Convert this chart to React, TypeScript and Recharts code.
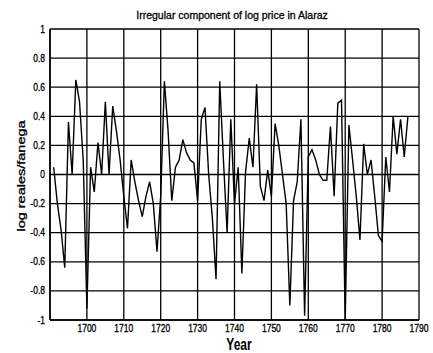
import React from 'react';
import {
  LineChart,
  Line,
  XAxis,
  YAxis,
  CartesianGrid,
} from 'recharts';

// Yearly irregular component of log price (log reales/fanega)
const years = [
  1691, 1692, 1693, 1694, 1695, 1696, 1697, 1698, 1699, 1700,
  1701, 1702, 1703, 1704, 1705, 1706, 1707, 1708, 1709, 1710,
  1711, 1712, 1713, 1714, 1715, 1716, 1717, 1718, 1719, 1720,
  1721, 1722, 1723, 1724, 1725, 1726, 1727, 1728, 1729, 1730,
  1731, 1732, 1733, 1734, 1735, 1736, 1737, 1738, 1739, 1740,
  1741, 1742, 1743, 1744, 1745, 1746, 1747, 1748, 1749, 1750,
  1751, 1752, 1753, 1754, 1755, 1756, 1757, 1758, 1759, 1760,
  1761, 1762, 1763, 1764, 1765, 1766, 1767, 1768, 1769, 1770,
  1771, 1772, 1773, 1774, 1775, 1776, 1777, 1778, 1779, 1780,
  1781, 1782, 1783, 1784, 1785, 1786, 1787,
];

const irregular = [
  0.05, -0.2, -0.38, -0.64, 0.36, 0.0, 0.65, 0.5, 0.1, -0.92,
  0.05, -0.12, 0.22, 0.0, 0.5, 0.0, 0.47, 0.3, 0.1, -0.15,
  -0.37, 0.1, -0.05, -0.18, -0.29, -0.15, -0.05, -0.2, -0.53, -0.15,
  0.64, 0.3, -0.18, 0.05, 0.1, 0.24, 0.15, 0.1, 0.08, -0.18,
  0.38, 0.46, 0.0, -0.3, -0.72, 0.64, 0.1, -0.4, 0.38, -0.2,
  0.05, -0.68, 0.02, 0.25, 0.05, 0.62, -0.08, -0.18, 0.03, -0.15,
  0.35, 0.2, 0.0, -0.2, -0.9, -0.18, -0.05, 0.38, -0.97, 0.12,
  0.17, 0.1, 0.0, -0.04, -0.04, 0.33, -0.15, 0.49, 0.51, -1.0,
  0.34, 0.1, -0.15, -0.45, 0.21, 0.0, 0.1, -0.15, -0.42, -0.46,
  0.12, -0.12, 0.4, 0.14, 0.38, 0.12, 0.4,
];

const xTicks = [1690, 1700, 1710, 1720, 1730, 1740, 1750, 1760, 1770, 1780, 1790];
const yTicks = [-1, -0.8, -0.6, -0.4, -0.2, 0, 0.2, 0.4, 0.6, 0.8, 1];

const data = years.map((year, i) => ({ year, value: irregular[i] }));

const FONT = '"Liberation Sans", Arial, sans-serif';
// slight outline so the small labels read as heavy as printed text
const ink = { fill: '#000', stroke: '#000', strokeWidth: 0.3 };

const XTick = (props: any) => {
  const { x, y, payload } = props;
  if (payload.value === 1690) return null;
  return (
    <text
      transform={`translate(${x},${y + 12}) scale(0.85,1.15)`}
      textAnchor="middle"
      fontSize={10}
      fontFamily={FONT}
      {...ink}
    >
      {payload.value}
    </text>
  );
};

const YTick = (props: any) => {
  const { x, y, payload } = props;
  const label = String(Math.round(payload.value * 10) / 10);
  return (
    <text
      transform={`translate(${x - 5},${y + 3.5}) scale(0.85,1.1)`}
      textAnchor="end"
      fontSize={10}
      fontFamily={FONT}
      {...ink}
    >
      {label}
    </text>
  );
};

export default function App() {
  return (
    <div style={{ position: 'absolute', left: 0, top: 0, width: 433, height: 353, background: '#fff' }}>
      <LineChart
        width={433}
        height={353}
        data={data}
        margin={{ top: 29, right: 14, bottom: 0, left: 0 }}
      >
        <CartesianGrid stroke="#000" strokeWidth={1.3} />
        <XAxis
          dataKey="year"
          type="number"
          domain={[1690, 1790]}
          ticks={xTicks}
          interval={0}
          height={33}
          tickSize={0}
          tickMargin={0}
          axisLine={{ stroke: '#000', strokeWidth: 1.5 }}
          tick={<XTick />}
        />
        <YAxis
          type="number"
          domain={[-1, 1]}
          ticks={yTicks}
          interval={0}
          width={50}
          tickSize={0}
          tickMargin={0}
          axisLine={{ stroke: '#000', strokeWidth: 1.5 }}
          tick={<YTick />}
        />
        <Line
          type="linear"
          dataKey="value"
          stroke="#000"
          strokeWidth={1.4}
          dot={false}
          isAnimationActive={false}
        />
        <text x={232} y={19} textAnchor="middle" fontSize={10.5} fontFamily={FONT} {...ink}>
          Irregular component of log price in Alaraz
        </text>
        <text
          transform="translate(239,350) scale(1,1.3)"
          textAnchor="middle"
          fontSize={12}
          fontFamily={FONT}
          fontWeight="bold"
          fill="#000"
        >
          Year
        </text>
        <text
          transform="translate(25,176) rotate(-90) scale(1.45,1)"
          textAnchor="middle"
          fontSize={10}
          fontFamily={FONT}
          {...ink}
        >
          log reales/fanega
        </text>
      </LineChart>
    </div>
  );
}
